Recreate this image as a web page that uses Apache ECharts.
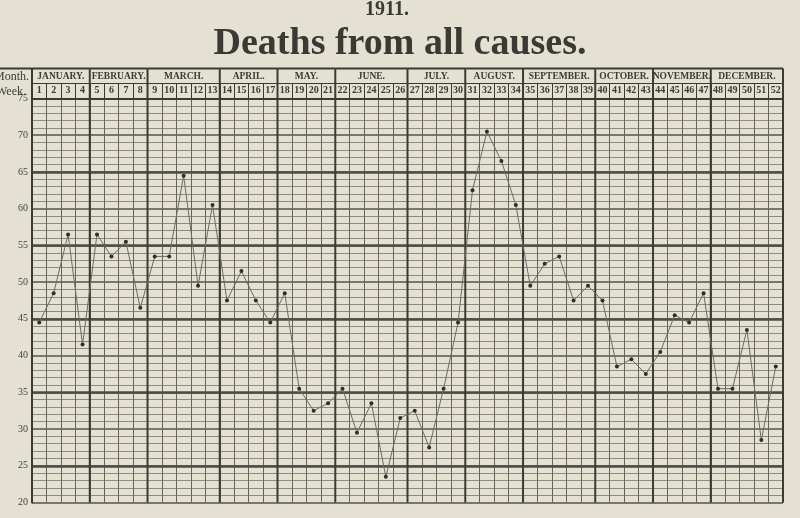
<!DOCTYPE html>
<html><head><meta charset="utf-8">
<script src="https://cdn.jsdelivr.net/npm/echarts@6/dist/echarts.min.js"></script>
<style>html,body{margin:0;padding:0;background:#e4e0d2;}#c{width:800px;height:518px;}</style>
</head><body><div id="c"></div>
<script>
const weekLabels = ['1','2','3','4','5','6','7','8','9','10','11','12','13','14','15','16','17','18','19','20','21','22','23','24','25','26','27','28','29','30','31','32','33','34','35','36','37','38','39','40','41','42','43','44','45','46','47','48','49','50','51','52'];
const months = ['JANUARY.','FEBRUARY.','MARCH.','APRIL.','MAY.','JUNE.','JULY.','AUGUST.','SEPTEMBER.','OCTOBER.','NOVEMBER.','DECEMBER.'];
const monthWeeks = [4,4,5,4,4,5,4,4,5,4,4,5];
const deaths = [44.5,48.5,56.5,41.5,56.5,53.5,55.5,46.5,53.5,53.5,
                64.5,49.5,60.5,47.5,51.5,47.5,44.5,48.5,35.5,32.5,
                33.5,35.5,29.5,33.5,23.5,31.5,32.5,27.5,35.5,44.5,
                62.5,70.5,66.5,60.5,49.5,52.5,53.5,47.5,49.5,47.5,
                38.5,39.5,37.5,40.5,45.5,44.5,48.5,35.5,35.5,43.5,
                28.5,38.5];
const yTicks = {min:20, max:75, step:5};
const heavyLines = [25,35,45,55,65];

const monthCells = [];
let acc = 0;
months.forEach((m,i)=>{ monthCells.push([acc, acc+monthWeeks[i], i]); acc += monthWeeks[i]; });

const ink = '#3b3a35';
const serif = 'Liberation Serif';
const chart = echarts.init(document.getElementById('c'), null, {renderer:'canvas'});
const ROW = 15;
chart.setOption({
  backgroundColor:'#e4e0d2',
  animation:false,
  title:[
    {text:'1911.', left:360, top:-5, textStyle:{fontFamily:serif, fontSize:20, fontWeight:'bold', color:ink}},
    {text:'Deaths from all causes.', left:'center', top:20, textStyle:{fontFamily:serif, fontSize:38, fontWeight:'bold', color:'#3a3934'}}
  ],
  grid:{left:32, right:17, top:98.5, bottom:15.5, containLabel:false},
  xAxis:[
    {type:'category', data:weekLabels, position:'top', boundaryGap:true,
     axisLine:{show:true, lineStyle:{color:ink, width:2}},
     axisTick:{show:true, interval:0, length:ROW, lineStyle:{color:ink, width:1}},
     axisLabel:{interval:0, margin:3, fontSize:10, fontWeight:'bold', fontFamily:serif, color:ink},
     splitLine:{show:true, interval:0, lineStyle:{color:'#66645c', width:1}}},
    {type:'value', min:0, max:52, show:false}
  ],
  yAxis:{type:'value', min:yTicks.min, max:yTicks.max, interval:yTicks.step,
    axisLine:{show:true, lineStyle:{color:ink, width:2}},
    axisTick:{show:false},
    axisLabel:{margin:4, fontSize:10, fontFamily:serif, color:'#45443f'},
    splitLine:{show:true, lineStyle:{color:'#55534c', width:1.5}},
    minorTick:{show:false, splitNumber:5},
    minorSplitLine:{show:true, lineStyle:{color:'#8d8a80', width:1}}
  },
  graphic:[
    {type:'text', right:800-29, top:71, style:{text:'Month.', font:'12px "Liberation Serif"', fill:ink, textAlign:'right'}},
    {type:'text', right:800-26, top:86, style:{text:'Week.', font:'12px "Liberation Serif"', fill:ink, textAlign:'right'}},
    {type:'line', shape:{x1:0, y1:98.5-2*ROW, x2:32, y2:98.5-2*ROW}, style:{stroke:ink, lineWidth:2}}
  ],
  series:[
    {type:'custom', xAxisIndex:1, yAxisIndex:0, data:monthCells, encode:{x:[0,1]}, clip:false, z:3,
     renderItem:function(params, api){
       const s = api.coord([api.value(0), yTicks.max]);
       const e = api.coord([api.value(1), yTicks.min]);
       const top = s[1] - 2*ROW;
       const idx = api.value(2);
       const children = [
         {type:'line', shape:{x1:s[0], y1:top, x2:e[0], y2:top}, style:{stroke:ink, lineWidth:2}},
         {type:'line', shape:{x1:s[0], y1:top+ROW, x2:e[0], y2:top+ROW}, style:{stroke:ink, lineWidth:1}},
         {type:'line', shape:{x1:e[0], y1:top, x2:e[0], y2:e[1]}, style:{stroke:ink, lineWidth:2}},
         {type:'text', style:{text:months[idx], x:(s[0]+e[0])/2, y:top+ROW/2+1, textAlign:'center', textVerticalAlign:'middle',
           font:'bold 9.5px "Liberation Serif"', fill:ink}}
       ];
       if (idx === 0) children.push({type:'line', shape:{x1:s[0], y1:top, x2:s[0], y2:e[1]}, style:{stroke:ink, lineWidth:2}});
       return {type:'group', children:children};
     }},
    {type:'line', data:deaths, xAxisIndex:0, yAxisIndex:0, z:5,
     lineStyle:{color:'#6c6b65', width:1}, symbol:'circle', symbolSize:4, showSymbol:true,
     itemStyle:{color:'#2f2e2a'},
     markLine:{silent:true, symbol:'none', label:{show:false}, z:2,
       lineStyle:{color:'#4f4d47', width:2.5, type:'solid'},
       data:heavyLines.map(v=>({yAxis:v}))}}
  ]
});
</script></body></html>
